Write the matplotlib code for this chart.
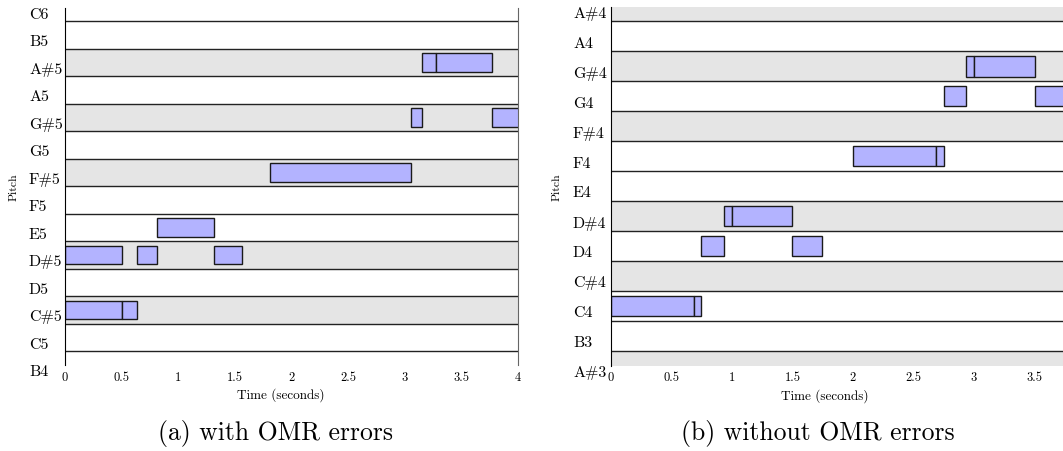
import matplotlib.pyplot as plt
from matplotlib.transforms import ScaledTranslation

plt.rcParams['font.family'] = ['cmr10', 'DejaVu Serif']
plt.rcParams['axes.formatter.use_mathtext'] = True

# ── Data ────────────────────────────────────────────────────────────────────
NOTE_NAMES = ['C', 'C#', 'D', 'D#', 'E', 'F', 'F#', 'G', 'G#', 'A', 'A#', 'B']

# (a) with OMR errors: MIDI pitch, onset, offset (seconds)
a_pitch  = [73, 73, 75, 75, 76, 75, 78, 80, 82, 82, 80]
a_onset  = [0.00, 0.505, 0.00, 0.632, 0.815, 1.316, 1.81, 3.053, 3.15, 3.274, 3.769]
a_offset = [0.505, 0.632, 0.505, 0.815, 1.316, 1.565, 3.053, 3.15, 3.274, 3.769, 4.05]
a_range  = (71, 84)      # B4 .. C6
a_xticks = [0, 0.5, 1, 1.5, 2, 2.5, 3, 3.5, 4]

# (b) without OMR errors
b_pitch  = [60, 60, 62, 63, 63, 62, 65, 65, 67, 68, 68, 67]
b_onset  = [0.00, 0.683, 0.746, 0.936, 0.997, 1.498, 1.997, 2.686, 2.749, 2.936, 3.0, 3.5]
b_offset = [0.683, 0.746, 0.936, 0.997, 1.498, 1.746, 2.686, 2.749, 2.936, 3.0, 3.5, 4.0]
b_range  = (58, 70)      # A#3 .. A#4
b_xticks = [0, 0.5, 1, 1.5, 2, 2.5, 3, 3.5]

captions = ['(a) with OMR errors', '(b) without OMR errors']


def name(p):
    return f"{NOTE_NAMES[p % 12]}{p // 12 - 1}"


W, H = 1063, 452
fig = plt.figure(figsize=(W / 100, H / 100), dpi=100)


def px_axes(left, right, top, bottom):
    return fig.add_axes([left / W, 1 - bottom / H, (right - left) / W, (bottom - top) / H])


def piano_roll(ax, pitch, onset, offset, prange, xticks, label_dx):
    lo, hi = prange
    pitches = list(range(lo, hi + 1))
    # black-key bands and row separators
    for p in pitches:
        if NOTE_NAMES[p % 12].endswith('#'):
            ax.axhspan(p - 0.5, p + 0.5, color='#e5e5e5', lw=0, zorder=0)
    for p in pitches[:-1]:
        ax.axhline(p + 0.5, color='#222222', lw=1.0, zorder=1)
    # notes
    for p, on, off in zip(pitch, onset, offset):
        ax.add_patch(plt.Rectangle((on, p - 0.34), off - on, 0.68,
                                   facecolor='#b3b3ff', edgecolor='#1a1a1a',
                                   lw=1.0, zorder=2))
    ax.set_xlim(0, 4)
    ax.set_ylim(lo, hi)
    ax.set_xticks(xticks)
    ax.set_xticklabels([f"{t:g}" for t in xticks], fontsize=9)
    ax.set_yticks(pitches)
    ax.set_yticklabels([name(p) for p in pitches], fontsize=11.5, ha='left')
    ax.tick_params(axis='both', length=0)
    ax.tick_params(axis='y', pad=0)
    ax.tick_params(axis='x', pad=4)
    off = ScaledTranslation(label_dx / 100, -5 / 100, fig.dpi_scale_trans)
    for lab in ax.get_yticklabels():
        lab.set_transform(lab.get_transform() + off)
    for s in ['top', 'bottom']:
        ax.spines[s].set_visible(False)
    ax.spines['left'].set_color('black')
    ax.spines['right'].set_color('#666666')
    ax.set_xlabel('Time (seconds)', fontsize=9.5)
    ax.set_ylabel('Pitch', fontsize=8.5)


ax1 = px_axes(65, 518, 8.5, 366)
piano_roll(ax1, a_pitch, a_onset, a_offset, a_range, a_xticks, -36)
ax1.xaxis.set_label_coords((281 - 65) / 453, -0.062)
ax1.yaxis.set_label_coords(-46 / 453, 0.5)

ax2 = px_axes(611, 611 + 4 * 121, 7.5, 366.7)
piano_roll(ax2, b_pitch, b_onset, b_offset, b_range, b_xticks, -38)
ax2.xaxis.set_label_coords((825 - 611) / 484, -0.062)
ax2.yaxis.set_label_coords(-49 / 484, 0.5)

fig.text(276 / W, 1 - 434 / H, captions[0], fontsize=18.5, ha='center', va='center')
fig.text(818 / W, 1 - 434 / H, captions[1], fontsize=18.5, ha='center', va='center')

fig.savefig('out.png', dpi=100)
